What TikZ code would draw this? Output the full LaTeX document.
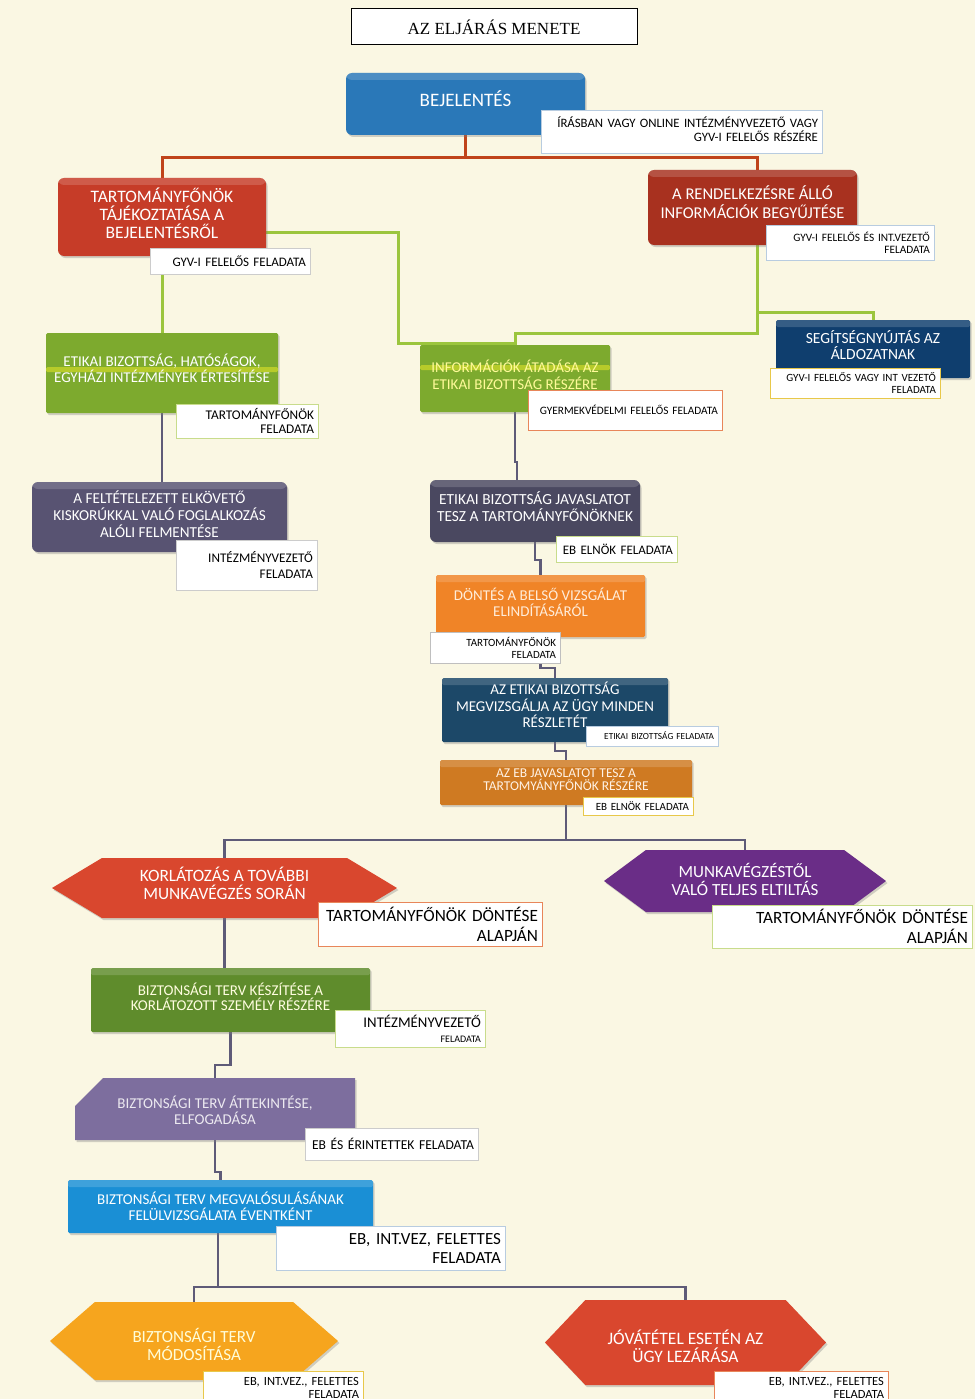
\documentclass[tikz,border=0pt]{standalone}
\usepackage{fontspec}
\setmainfont{Carlito}
\newfontfamily\titlefont{Liberation Serif}
\usetikzlibrary{shapes.symbols,shapes.misc,shadows}
\pgfdeclarelayer{back}
\pgfdeclarelayer{lines}
\pgfsetlayers{back,lines,main}
\definecolor{bgc}{HTML}{FAF7E3}
\definecolor{cblue}{HTML}{2A78B8}
\definecolor{cred}{HTML}{C63C28}
\definecolor{cdred}{HTML}{A8311F}
\definecolor{cgreen}{HTML}{7DAA2E}
\definecolor{cnavy}{HTML}{0F3E6E}
\definecolor{cpurgray}{HTML}{585372}
\definecolor{cdgray}{HTML}{4A4860}
\definecolor{corange}{HTML}{F08427}
\definecolor{cteal}{HTML}{1C4868}
\definecolor{cbrown}{HTML}{CF7A22}
\definecolor{chred}{HTML}{D9472E}
\definecolor{cpurple}{HTML}{6A2D87}
\definecolor{cdgreen}{HTML}{5F8C2C}
\definecolor{clav}{HTML}{7D6E9E}
\definecolor{clblue}{HTML}{1A8FD5}
\definecolor{cyell}{HTML}{F6A51E}
\definecolor{linered}{HTML}{C0441A}
\definecolor{linegreen}{HTML}{9BC53D}
\definecolor{linegray}{HTML}{5E5B78}
\definecolor{nblue}{HTML}{B8CCE0}
\definecolor{norange}{HTML}{E8865A}
\definecolor{nyell}{HTML}{E8C84A}
\definecolor{nlgreen}{HTML}{C8DC8C}
\newcommand\fsz[2]{\fontsize{#1}{#2}\selectfont}
\newcommand\shiftup[1]{\rule[-#1]{0pt}{0pt}}
\newcommand\shiftdn[1]{\rule{0pt}{#1}}
\begin{document}
\begin{tikzpicture}[x=1pt,y=-1pt,
  shd/.style={drop shadow={opacity=.35,shadow xshift=1.5pt,shadow yshift=-2pt}},
  box/.style={rectangle, rounded corners=6pt, fill=#1, text=white, align=center, inner sep=0pt, shd,
    path picture={\fill[white,opacity=.16] (path picture bounding box.north west) rectangle ([yshift=-7pt]path picture bounding box.north east);}},
  sbox/.style={box=#1, rounded corners=1.5pt},
  hex/.style={signal, signal to=west and east, fill=#1, text=white, align=center, inner sep=0pt, shd},
  note/.style={rectangle, fill=white, draw=#1, line width=.9pt, text=black, align=right, inner xsep=4pt, inner ysep=2pt},
  redl/.style={draw=linered, line width=3pt},
  grnl/.style={draw=linegreen, line width=3pt},
  gryl/.style={draw=linegray, line width=2.5pt},
  glow/.style={path picture={\fill[yellow!85!white,opacity=.45] ([yshift=-#1 pt]path picture bounding box.north west) rectangle ([yshift=-#1 pt - 5pt]path picture bounding box.north east);}}
]
\useasboundingbox (0,0) rectangle (975,1399);
\begin{pgfonlayer}{back}
\fill[bgc] (0,0) rectangle (975,1399);
\end{pgfonlayer}

% title
\node[draw=black, line width=1pt, fill=white, minimum width=286pt, minimum height=36pt, inner sep=0pt, font=\titlefont\fsz{17}{20}] (title) at (494,27) {AZ ELJÁRÁS MENETE};

% boxes
\node[box=cblue, minimum width=239pt, minimum height=62pt, font=\fsz{19}{22}] (bej) at (465.5,104) {BEJELENTÉS\shiftup{10pt}};
\node[box=cred, minimum width=208pt, minimum height=78pt, font=\fsz{17.5}{18}] (tart) at (162,217) {TARTOMÁNYFŐNÖK\\TÁJÉKOZTATÁSA A\\BEJELENTÉSRŐL\shiftup{8pt}};
\node[box=cdred, minimum width=209pt, minimum height=75pt, font=\fsz{16.5}{19}] (rend) at (752.5,207.5) {A RENDELKEZÉSRE ÁLLÓ\\INFORMÁCIÓK BEGYŰJTÉSE\shiftup{10pt}};
\node[sbox=cgreen, glow=34, minimum width=232pt, minimum height=80pt, font=\fsz{15}{16}] (etik) at (162,373) {ETIKAI BIZOTTSÁG, HATÓSÁGOK,\\EGYHÁZI INTÉZMÉNYEK ÉRTESÍTÉSE\shiftup{10pt}};
\node[sbox=cgreen, glow=20, minimum width=190pt, minimum height=67pt, font=\fsz{15}{17}, text=yellow!40!white] (info) at (515,378.5) {INFORMÁCIÓK ÁTADÁSA AZ\\ETIKAI BIZOTTSÁG RÉSZÉRE\shiftup{8pt}};
\node[sbox=cnavy, minimum width=194pt, minimum height=58pt, font=\fsz{15.5}{16}] (seg) at (873,349) {SEGÍTSÉGNYÚJTÁS AZ\\ÁLDOZATNAK\shiftup{8pt}};
\node[box=cpurgray, minimum width=255pt, minimum height=70pt, font=\fsz{15.2}{17}] (felt) at (159.5,517) {A FELTÉTELEZETT ELKÖVETŐ\\KISKORÚKKAL VALÓ FOGLALKOZÁS\\ALÓLI FELMENTÉSE\shiftup{6pt}};
\node[box=cdgray, minimum width=210pt, minimum height=62pt, font=\fsz{15.4}{17}] (ejav) at (535,511) {ETIKAI BIZOTTSÁG JAVASLATOT\\TESZ A TARTOMÁNYFŐNÖKNEK\shiftup{8pt}};
\node[sbox=corange, minimum width=209pt, minimum height=62pt, font=\fsz{15}{16}, text=white!85!orange] (dont) at (540.5,606) {DÖNTÉS A BELSŐ VIZSGÁLAT\\ELINDÍTÁSÁRÓL\shiftup{8pt}};
\node[sbox=cteal, minimum width=226pt, minimum height=64pt, font=\fsz{15}{16.5}] (azet) at (555,710) {AZ ETIKAI BIZOTTSÁG\\MEGVIZSGÁLJA AZ ÜGY MINDEN\\RÉSZLETÉT\shiftup{10pt}};
\node[sbox=cbrown, minimum width=252pt, minimum height=45pt, font=\fsz{13.5}{13}, text=white!90!orange] (azeb) at (566,782.5) {AZ EB JAVASLATOT TESZ A\\TARTOMYÁNYFŐNÖK RÉSZÉRE\shiftup{6pt}};
\node[hex=chred, signal pointer angle=62, minimum width=345pt, minimum height=60pt, font=\fsz{17.3}{18}] (korl) at (224.5,888) {KORLÁTOZÁS A TOVÁBBI\\MUNKAVÉGZÉS SORÁN\shiftup{10pt}};
\node[hex=cpurple, signal pointer angle=73, minimum width=282pt, minimum height=62pt, font=\fsz{17}{18}] (munk) at (745,881) {MUNKAVÉGZÉSTŐL\\VALÓ TELJES ELTILTÁS\shiftup{4pt}};
\node[sbox=cdgreen, minimum width=279pt, minimum height=64pt, font=\fsz{15}{15}, text=white!88!yellow] (bkesz) at (230.5,1000) {BIZTONSÁGI TERV KÉSZÍTÉSE A\\KORLÁTOZOTT SZEMÉLY RÉSZÉRE\shiftup{7pt}};
\node[chamfered rectangle, chamfered rectangle corners=north west, chamfered rectangle xsep=34pt, chamfered rectangle ysep=12pt, fill=clav, text=white!85!clav, align=center, inner sep=0pt, shd, minimum width=280pt, minimum height=62pt, font=\fsz{15}{16}] (attek) at (215,1109) {\shiftdn{16pt}BIZTONSÁGI TERV ÁTTEKINTÉSE,\\ELFOGADÁSA};
\node[sbox=clblue, minimum width=305pt, minimum height=53pt, font=\fsz{15}{16}] (megv) at (220.5,1206.5) {BIZTONSÁGI TERV MEGVALÓSULÁSÁNAK\\FELÜLVIZSGÁLATA ÉVENTKÉNT};
\node[hex=cyell, signal pointer angle=82, minimum width=288pt, minimum height=78pt, font=\fsz{17}{18}, text=white!85!yellow] (modo) at (194,1341) {\shiftdn{21.5pt}BIZTONSÁGI TERV\\MÓDOSÍTÁSA};
\node[hex=chred, signal pointer angle=93, minimum width=281pt, minimum height=85pt, font=\fsz{17.5}{18}] (jova) at (685.5,1342.5) {\shiftdn{22pt}JÓVÁTÉTEL ESETÉN AZ\\ÜGY LEZÁRÁSA};

% notes
\node[note=nblue, text width=273pt, minimum height=43pt, font=\fsz{12.8}{14}] (n1) at (681.5,131.5) {ÍRÁSBAN VAGY ONLINE INTÉZMÉNYVEZETŐ VAGY\\GYV-I FELELŐS RÉSZÉRE\shiftup{4pt}};
\node[note=gray!40, text width=152pt, minimum height=26pt, font=\fsz{13}{14}] (n2) at (230,261) {GYV-I FELELŐS FELADATA};
\node[note=nblue, text width=160pt, minimum height=35pt, font=\fsz{11.3}{12}] (n3) at (850,242.5) {GYV-I FELELŐS ÉS INT.VEZETŐ\\FELADATA};
\node[note=nlgreen, text width=134pt, minimum height=34pt, font=\fsz{13.3}{14}] (n4) at (247,421) {TARTOMÁNYFŐNÖK\\FELADATA};
\node[note=norange, text width=186pt, minimum height=40pt, font=\fsz{11.3}{12}] (n5) at (625,410) {GYERMEKVÉDELMI FELELŐS FELADATA};
\node[note=nyell, text width=162pt, minimum height=30pt, font=\fsz{11}{12}] (n6) at (855,383) {GYV-I FELELŐS VAGY INT VEZETŐ\\FELADATA};
\node[note=gray!40, text width=133pt, minimum height=50pt, font=\fsz{13.2}{16}] (n7) at (246.5,565) {INTÉZMÉNYVEZETŐ\\FELADATA};
\node[note=nlgreen, text width=113pt, minimum height=26pt, font=\fsz{13}{14}] (n8) at (616.5,549) {EB ELNÖK FELADATA};
\node[note=gray!50, text width=122pt, minimum height=31pt, font=\fsz{11}{12}] (n9) at (495,647.5) {TARTOMÁNYFŐNÖK\\FELADATA};
\node[note=nblue, text width=124pt, minimum height=20pt, font=\fsz{9.3}{10}] (n10) at (652,736) {ETIKAI BIZOTTSÁG FELADATA};
\node[note=nyell, text width=102pt, minimum height=18pt, font=\fsz{11}{12}] (n11) at (638,806) {EB ELNÖK FELADATA};
\node[note=norange, text width=216pt, minimum height=44pt, font=\fsz{17.2}{20}] (n12) at (430,924) {TARTOMÁNYFŐNÖK DÖNTÉSE\\ALAPJÁN};
\node[note=nlgreen, text width=252pt, minimum height=43pt, font=\fsz{17.2}{20}] (n13) at (842,926.5) {TARTOMÁNYFŐNÖK DÖNTÉSE\\ALAPJÁN};
\node[note=nlgreen, text width=142pt, minimum height=37pt, font=\fsz{14.8}{15}] (n14) at (410,1028.5) {INTÉZMÉNYVEZETŐ\\{\fsz{10}{12}\selectfont FELADATA}};
\node[note=gray!40, text width=165pt, minimum height=32pt, font=\fsz{13.6}{14}] (n15) at (391.5,1144) {EB ÉS ÉRINTETTEK FELADATA};
\node[note=nblue, text width=221pt, minimum height=44pt, font=\fsz{17}{19}] (n16) at (390.5,1248) {EB, INT.VEZ, FELETTES\\FELADATA};
\node[note=nyell, text width=152pt, minimum height=34pt, font=\fsz{12.5}{13}] (n17) at (283,1388) {EB, INT.VEZ., FELETTES\\FELADATA};
\node[note=norange, text width=166pt, minimum height=34pt, font=\fsz{12.5}{13}] (n18) at (801,1388) {EB, INT.VEZ., FELETTES\\FELADATA};

% junction coordinates
\coordinate (rj) at (465.5,158);
\coordinate (g1) at (398,232);
\coordinate (g2) at (398,343);
\coordinate (g3) at (757,333);
\coordinate (g4) at (757,312);
\coordinate (c1) at (517,462);
\coordinate (c2) at (540.5,560);
\coordinate (c3) at (555,668);
\coordinate (c4) at (566,751);
\coordinate (sp1) at (566,840);
\coordinate (c6) at (215,1065);
\coordinate (c7) at (220.5,1172);
\coordinate (sp2) at (218,1287);

\begin{pgfonlayer}{lines}
\draw[redl] (bej.south) -- (rj);
\draw[redl] (rj) -| (tart.north);
\draw[redl] (rj) -| (rend.north -| g3);
\draw[grnl] (tart.south) -- (etik.north);
\draw[grnl] (g1 -| tart.east) -- (g1) -- (g2) -- (g2 -| info.north) -- (info.north);
\draw[grnl] (rend.south -| g3) -- (g3) -| (info.north);
\draw[grnl] (g4) -| (seg.north);
\draw[gryl] (etik.south) -- (etik.south |- felt.north);
\draw[gryl] (info.south) |- (c1) -- (c1 |- ejav.north);
\draw[gryl] (ejav.south) |- (c2) -- (dont.north);
\draw[gryl] (dont.south) |- (c3) -- (azet.north);
\draw[gryl] (azet.south) |- (c4) -- (azeb.north);
\draw[gryl] (azeb.south) -- (sp1);
\draw[gryl] (sp1) -| (korl.north);
\draw[gryl] (sp1) -| (munk.north);
\draw[gryl] (korl.south) -- (korl.south |- bkesz.north);
\draw[gryl] (bkesz.south) |- (c6) -- (attek.north);
\draw[gryl] (attek.south) |- (c7) -- (megv.north);
\draw[gryl] (megv.south -| sp2) -- (sp2);
\draw[gryl] (sp2) -| (modo.north);
\draw[gryl] (sp2) -| (jova.north);
\end{pgfonlayer}
\end{tikzpicture}
\end{document}
